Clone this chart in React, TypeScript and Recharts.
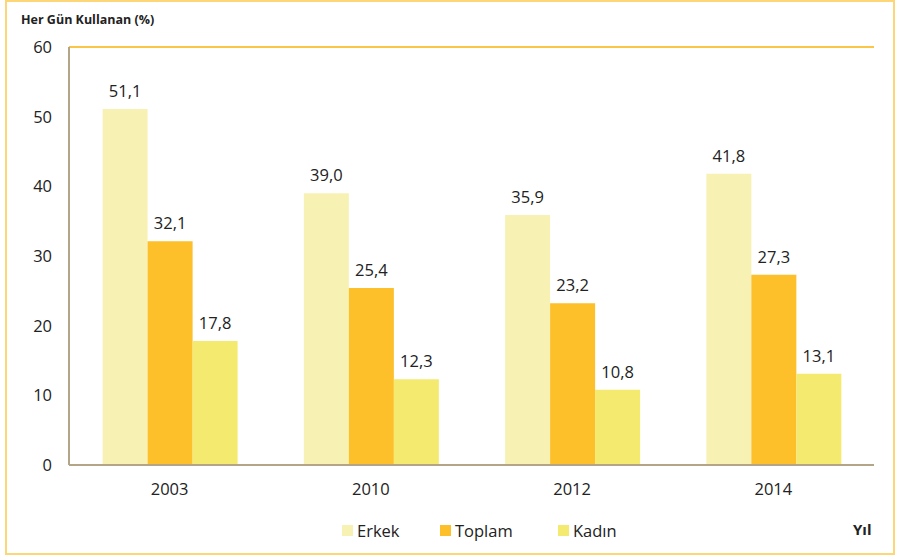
import React from "react";
import {
  BarChart,
  Bar,
  XAxis,
  YAxis,
  ReferenceLine,
  LabelList,
} from "recharts";

const years = ["2003", "2010", "2012", "2014"];
const erkek = [51.1, 39.0, 35.9, 41.8];
const toplam = [32.1, 25.4, 23.2, 27.3];
const kadin = [17.8, 12.3, 10.8, 13.1];
const yTicks = [0, 10, 20, 30, 40, 50, 60];
const seriesNames = ["Erkek", "Toplam", "Kadın"];
const seriesColors = ["#F7F2B3", "#FDBF2A", "#F5EA70"];

const data = years.map((y, i) => ({
  year: y,
  Erkek: erkek[i],
  Toplam: toplam[i],
  Kadın: kadin[i],
}));

const FONT = "'Open Sans', 'Liberation Sans', sans-serif";
const fmt = (v: any) => Number(v).toFixed(1).replace(".", ",");

const LegendContent = () => (
  <div style={{ position: "absolute", left: 0, top: 518, width: 897, height: 24, fontFamily: FONT }}>
    {seriesNames.map((n, i) => {
      const lefts = [342, 440, 558];
      return (
        <div
          key={n}
          style={{
            position: "absolute",
            left: lefts[i],
            top: 0,
            display: "flex",
            alignItems: "center",
            height: 24,
          }}
        >
          <span
            style={{
              display: "inline-block",
              width: 11,
              height: 11,
              background: seriesColors[i],
              marginRight: 4,
            }}
          />
          <span style={{ fontSize: 16.5, color: "#222" }}>{n}</span>
        </div>
      );
    })}
  </div>
);

export default function App() {
  return (
    <div
      style={{
        position: "fixed",
        left: 0,
        top: 0,
        width: 897,
        height: 558,
        background: "#fff",
        fontFamily: FONT,
      }}
    >
      <div
        style={{
          position: "absolute",
          left: 5,
          top: 0,
          width: 890,
          height: 555,
          border: "2px solid #FDD777",
          boxSizing: "border-box",
        }}
      />
      <div
        style={{
          position: "absolute",
          left: 21,
          top: 11,
          fontSize: 12.5,
          fontWeight: 700,
          color: "#222",
          whiteSpace: "nowrap",
        }}
      >
        Her Gün Kullanan (%)
      </div>
      <div
        style={{
          position: "absolute",
          left: 853,
          top: 519,
          fontSize: 15,
          fontWeight: 700,
          color: "#222",
        }}
      >
        Yıl
      </div>
      <div style={{ position: "absolute", left: 0, top: 0 }}>
        <BarChart
          width={897}
          height={558}
          data={data}
          margin={{ top: 47, right: 23, bottom: 0, left: 0 }}
          barCategoryGap="16.7%"
          barGap={0}
        >
          <XAxis
            dataKey="year"
            axisLine={{ stroke: "#B3A688", strokeWidth: 2 }}
            tickLine={false}
            tickSize={0}
            tickMargin={18}
            tick={{ fill: "#222", fontSize: 16.5, fontFamily: FONT }}
            height={93}
          />
          <YAxis
            yAxisId="left"
            domain={[0, 60]}
            ticks={yTicks}
            width={69}
            axisLine={{ stroke: "#B3A688", strokeWidth: 2 }}
            tickLine={false}
            tickSize={0}
            tickMargin={17}
            tick={{ fill: "#222", fontSize: 16.5, fontFamily: FONT }}
          />
          <YAxis
            yAxisId="right"
            orientation="right"
            domain={[0, 60]}
            width={0}
            axisLine={{ stroke: "#FBC547", strokeWidth: 2 }}
            tick={false}
            tickLine={false}
          />
          <ReferenceLine yAxisId="left" y={60} stroke="#FBC547" strokeWidth={2} />
          {seriesNames.map((n, i) => (
            <Bar
              key={n}
              yAxisId="left"
              dataKey={n}
              fill={seriesColors[i]}
              isAnimationActive={false}
            >
              <LabelList
                dataKey={n}
                position="top"
                offset={12}
                formatter={fmt}
                style={{ fill: "#222", fontSize: 16.5, fontFamily: FONT }}
              />
            </Bar>
          ))}
        </BarChart>
      </div>
      <LegendContent />
    </div>
  );
}
